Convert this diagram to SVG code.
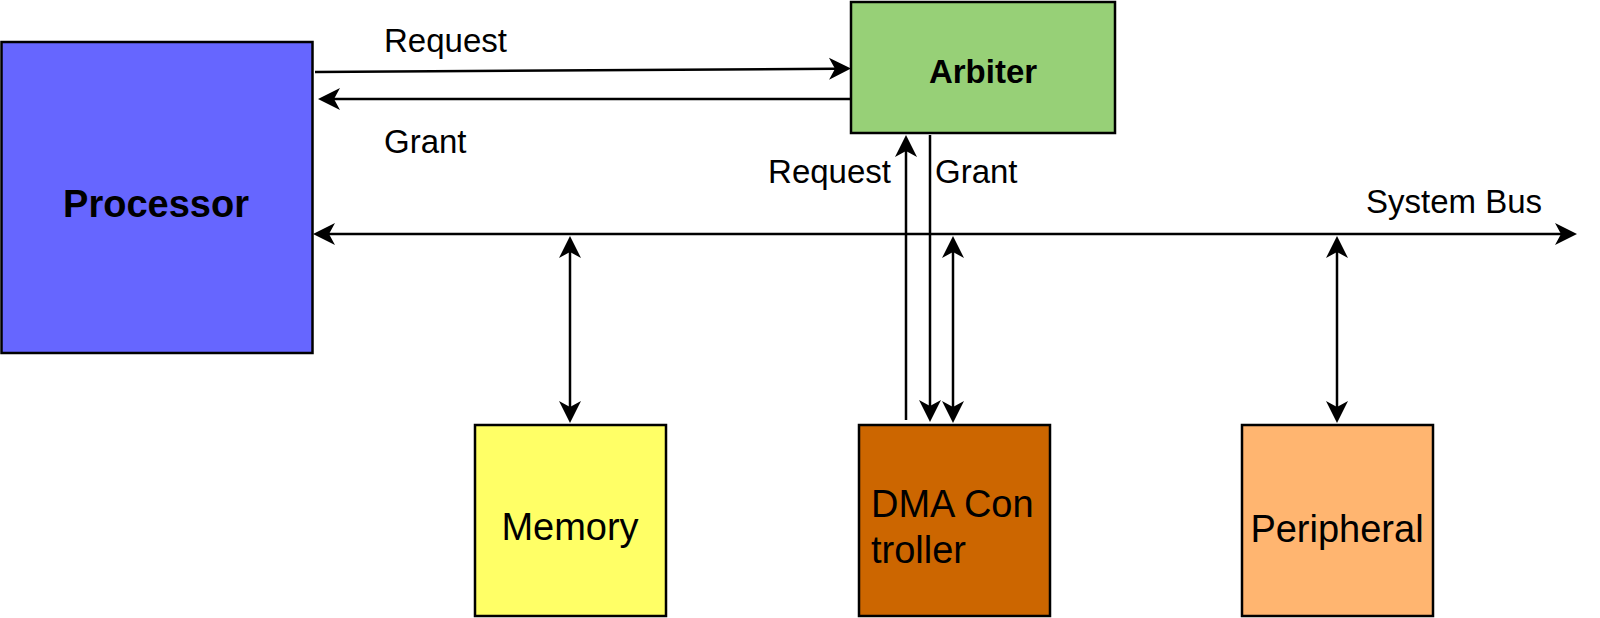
<svg xmlns="http://www.w3.org/2000/svg" width="1600" height="618" viewBox="0 0 1600 618">
<style>
.box{stroke:#000;stroke-width:2.5}
.t{font-family:"Liberation Sans",Arial,sans-serif;fill:#000}
.b{font-weight:bold}
.c{fill:none;stroke:#000;stroke-width:2.5}
.m{font-size:38px}
.s{font-size:33px}
</style>
<defs>
<marker id="ah" markerUnits="userSpaceOnUse" viewBox="-20 -20 40 40" markerWidth="40" markerHeight="40" refX="0" refY="0" orient="auto-start-reverse" overflow="visible">
<path d="M16,0 L-6,-11 L0,0 L-6,11 Z" fill="#000"/>
</marker>
</defs>
<rect width="1600" height="618" fill="#fff"/>
<g id="processor">
<rect class="box" x="1.5" y="42" width="311" height="311" fill="#6666FF"/>
<text class="t b" x="156" y="217" font-size="38" text-anchor="middle">Processor</text>
</g>
<g id="arbiter">
<rect class="box" x="851" y="2" width="264" height="131" fill="#97D077"/>
<text class="t b" x="983" y="83" font-size="33" text-anchor="middle">Arbiter</text>
</g>
<g id="memory">
<rect class="box" x="475" y="425" width="191" height="191" fill="#FFFF66"/>
<text class="t m" x="570" y="540" text-anchor="middle">Memory</text>
</g>
<g id="dma">
<rect class="box" x="859" y="425" width="191" height="191" fill="#CC6600"/>
<text class="t m" x="871" y="517">DMA Con</text>
<text class="t m" x="871" y="563">troller</text>
</g>
<g id="peripheral">
<rect class="box" x="1242" y="425" width="191" height="191" fill="#FFB570"/>
<text class="t m" x="1337" y="542" text-anchor="middle">Peripheral</text>
</g>
<g id="connectors">
<path class="c" d="M315,72 L835,68.7" marker-end="url(#ah)"/>
<path class="c" d="M851,99 L334,99" marker-end="url(#ah)"/>
<path class="c" d="M329,234 L1561,234" marker-start="url(#ah)" marker-end="url(#ah)"/>
<path class="c" d="M570,252 L570,407" marker-start="url(#ah)" marker-end="url(#ah)"/>
<path class="c" d="M906,420 L906,151" marker-end="url(#ah)"/>
<path class="c" d="M930,135 L930,406" marker-end="url(#ah)"/>
<path class="c" d="M953,252 L953,407" marker-start="url(#ah)" marker-end="url(#ah)"/>
<path class="c" d="M1337,252 L1337,407" marker-start="url(#ah)" marker-end="url(#ah)"/>
</g>
<g id="labels">
<text class="t s" x="384" y="52">Request</text>
<text class="t s" x="384" y="153">Grant</text>
<text class="t s" x="891" y="183" text-anchor="end">Request</text>
<text class="t s" x="935" y="183">Grant</text>
<text class="t s" x="1366" y="213">System Bus</text>
</g>
</svg>
